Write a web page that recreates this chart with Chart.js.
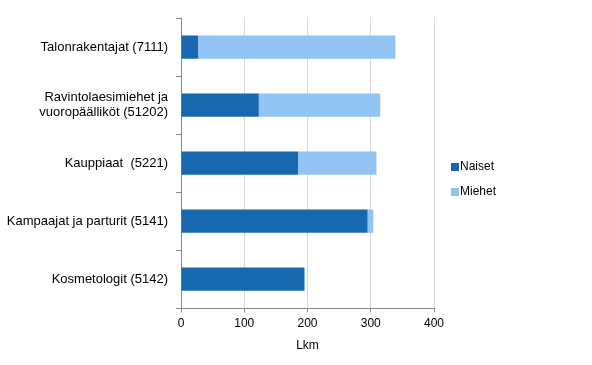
<!DOCTYPE html>
<html>
<head>
<meta charset="utf-8">
<script src="https://cdn.jsdelivr.net/npm/chart.js@4/dist/chart.umd.min.js"></script>
<style>
  html, body { margin: 0; padding: 0; background: #fff; }
  #wrap { width: 592px; height: 365px; position: relative; }
</style>
</head>
<body>
<div id="wrap"><canvas id="c" width="592" height="365"></canvas></div>
<script>
const categories = [
  'Talonrakentajat (7111)',
  ['Ravintolaesimiehet ja', 'vuoropäälliköt (51202)'],
  'Kauppiaat  (5221)',
  'Kampaajat ja parturit (5141)',
  'Kosmetologit (5142)'
];
const naiset = [27, 123, 185, 295, 195];
const miehet = [312, 192, 124, 9, 1];
const xTicks = [0, 100, 200, 300, 400];
const seriesNames = ['Naiset', 'Miehet'];
const axisTitle = 'Lkm';

const FONT = 'Arial, "Liberation Sans", sans-serif';

const legendPlugin = {
  id: 'customLegend',
  afterDraw(chart) {
    const ctx = chart.ctx;
    const area = chart.chartArea;
    const x0 = area.right + 17;
    const y0 = 166;
    ctx.save();
    ctx.font = '12px ' + FONT;
    ctx.textBaseline = 'middle';
    ctx.textAlign = 'left';
    chart.data.datasets.forEach((ds, i) => {
      const y = y0 + i * 25;
      ctx.fillStyle = ds.backgroundColor;
      ctx.fillRect(x0, y - 3, 8, 8);
      ctx.fillStyle = '#000';
      ctx.fillText(ds.label, x0 + 9, y + 1);
    });
    ctx.restore();
  }
};

new Chart(document.getElementById('c'), {
  type: 'bar',
  data: {
    labels: categories,
    datasets: [
      { label: seriesNames[0], data: naiset, backgroundColor: '#1868b0', borderWidth: 0, barPercentage: 0.4, categoryPercentage: 1 },
      { label: seriesNames[1], data: miehet, backgroundColor: '#91c4f2', borderWidth: 0, barPercentage: 0.4, categoryPercentage: 1 }
    ]
  },
  options: {
    indexAxis: 'y',
    responsive: false,
    animation: false,
    devicePixelRatio: 1,
    layout: { padding: { left: 0, right: 158, top: 18, bottom: 12 } },
    plugins: { legend: { display: false }, tooltip: { enabled: false } },
    scales: {
      x: {
        stacked: true,
        min: 0, max: 400,
        afterBuildTicks: s => { s.ticks = xTicks.map(v => ({ value: v })); },
        ticks: { color: '#000', font: { family: FONT, size: 12 }, padding: 4 },
        grid: { color: '#d9d9d9', tickColor: '#888', tickLength: 4, lineWidth: 1 },
        border: { color: '#888', width: 1 },
        title: { display: true, text: axisTitle, color: '#000', font: { family: FONT, size: 12 }, padding: { top: 4, bottom: 0 } }
      },
      y: {
        stacked: true,
        afterFit: s => { s.width = 181; },
        ticks: { color: '#000', font: { family: FONT, size: 13, lineHeight: 1.1 }, padding: 8 },
        grid: { offset: true, drawOnChartArea: false, color: '#888', tickLength: 5 },
        border: { color: '#888', width: 1 }
      }
    }
  },
  plugins: [legendPlugin]
});
</script>
</body>
</html>
